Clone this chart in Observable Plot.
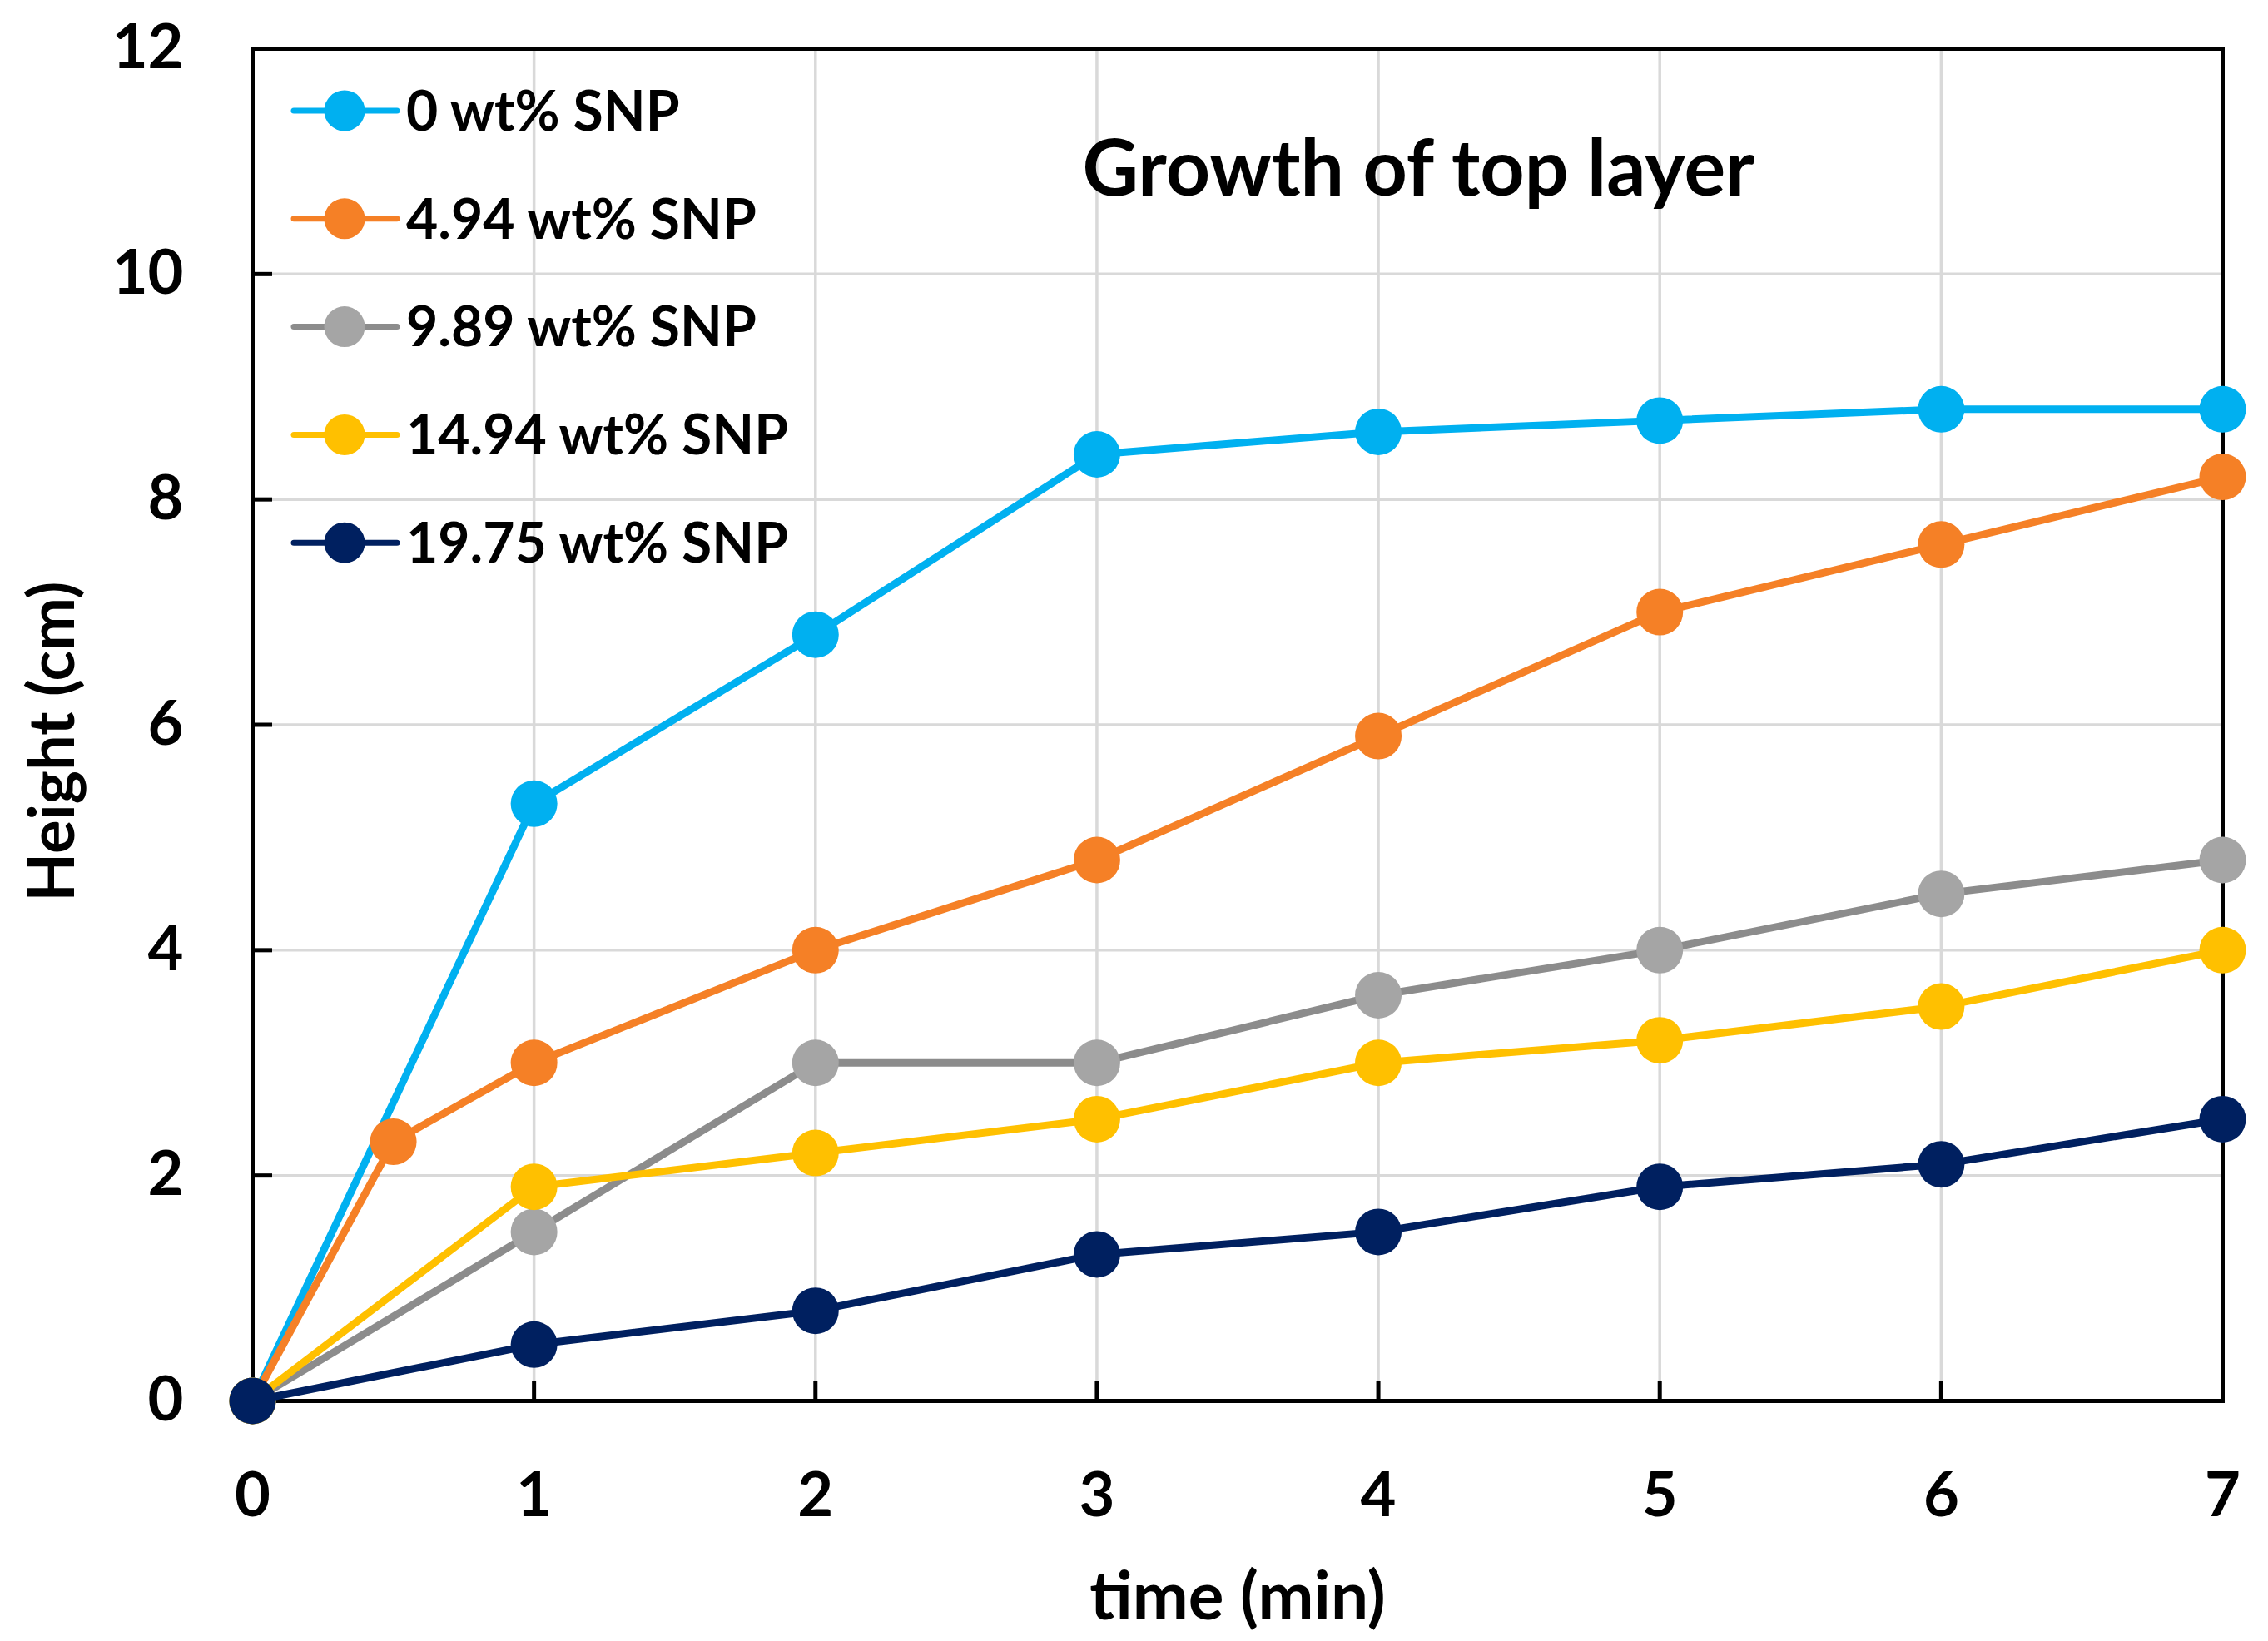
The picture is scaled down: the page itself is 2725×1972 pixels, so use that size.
<!DOCTYPE html>
<html><head><meta charset="utf-8">
<script src="https://cdn.jsdelivr.net/npm/d3@7"></script>
<script src="https://cdn.jsdelivr.net/npm/@observablehq/plot@0.6"></script>
<style>
html,body{margin:0;padding:0;background:#fff;}
#wrap{position:relative;width:2725px;height:1972px;}
#legend{position:absolute;left:0;top:0;}
</style></head><body><div id="wrap"></div>
<script>
const seriesNames = ["0 wt% SNP","4.94 wt% SNP","9.89 wt% SNP","14.94 wt% SNP","19.75 wt% SNP"];
const lineColors = ["#00B0F0","#F58026","#8C8C8C","#FFC000","#002060"];
const markerColors = ["#00B0F0","#F58026","#A5A5A5","#FFC000","#002060"];
const time0 = [0,1,2,3,4,5,6,7];
const height0 = [0,5.3,6.8,8.4,8.6,8.7,8.8,8.8];
const time494 = [0,0.5,1,2,3,4,5,6,7];
const height494 = [0,2.3,3.0,4.0,4.8,5.9,7.0,7.6,8.2];
const time989 = [0,1,2,3,4,5,6,7];
const height989 = [0,1.5,3.0,3.0,3.6,4.0,4.5,4.8];
const time1494 = [0,1,2,3,4,5,6,7];
const height1494 = [0,1.9,2.2,2.5,3.0,3.2,3.5,4.0];
const time1975 = [0,1,2,3,4,5,6,7];
const height1975 = [0,0.5,0.8,1.3,1.5,1.9,2.1,2.5];
const xTicks = [0,1,2,3,4,5,6,7];
const yTicks = [0,2,4,6,8,10,12];
const xLabel = "time (min)";
const yLabel = "Height (cm)";
const chartTitle = "Growth of top layer";

const times = [time0,time494,time989,time1494,time1975];
const heights = [height0,height494,height989,height1494,height1975];
const seriesRows = seriesNames.map((name,i)=>times[i].map((t,j)=>({series:name,t,h:heights[i][j]})));

const W=2725,H=1972, mL=303, mR=55, mT=58, mB=289;
const plotW=W-mL-mR, plotH=H-mT-mB;
const font = "Lato, 'Open Sans', sans-serif";

const seriesMarks = [];
seriesRows.forEach((rows,i)=>{
  seriesMarks.push(Plot.line(rows,{x:"t",y:"h",stroke:lineColors[i],strokeWidth:9,strokeLinejoin:"round"}));
  seriesMarks.push(Plot.dot(rows,{x:"t",y:"h",r:28,fill:markerColors[i],stroke:null}));
});

const chart = Plot.plot({
  width:W,height:H,marginLeft:mL,marginRight:mR,marginTop:mT,marginBottom:mB,
  style:{fontFamily:font,fontWeight:700,background:"#fff",color:"#000",overflow:"visible"},
  x:{domain:[0,7]}, y:{domain:[0,12]},
  marks:[
    Plot.gridX(xTicks,{stroke:"#d9d9d9",strokeOpacity:1,strokeWidth:3.5}),
    Plot.gridY(yTicks,{stroke:"#d9d9d9",strokeOpacity:1,strokeWidth:3.5}),
    Plot.frame({stroke:"#000",strokeWidth:5}),
    Plot.tickX(xTicks,{x:d=>d,insetTop:plotH-24,stroke:"#000",strokeWidth:5}),
    Plot.tickY(yTicks,{y:d=>d,insetRight:plotW-24,stroke:"#000",strokeWidth:5}),
    Plot.axisX(xTicks,{tickSize:0,tickPadding:86,fontSize:74,fontWeight:700,label:null,fill:"#000",tickFormat:d=>String(d)}),
    Plot.axisY(yTicks,{tickSize:0,tickPadding:83,fontSize:74,fontWeight:700,label:null,fill:"#000",tickFormat:d=>String(d)}),
    Plot.text([xLabel],{frameAnchor:"bottom",dy:237,fontSize:80,fontWeight:700,lineAnchor:"middle",textAnchor:"middle",fill:"#000"}),
    Plot.text([yLabel],{frameAnchor:"left",dx:-239,dy:20,rotate:-90,fontSize:76,fontWeight:700,lineAnchor:"middle",textAnchor:"middle",fill:"#000"}),
    Plot.text([chartTitle],{frameAnchor:"top-left",dx:997,dy:147,textAnchor:"start",lineAnchor:"middle",fontSize:93,fontWeight:700,fill:"#000"}),
    ...seriesMarks
  ]
});
const wrap = document.getElementById("wrap");
wrap.appendChild(chart);

// legend overlay
const leg = d3.select(wrap).append("svg").attr("id","legend").attr("width",W).attr("height",H);
const rowY = i => 133 + i*129.8;
const g = leg.selectAll("g").data(seriesNames).join("g").attr("transform",(d,i)=>`translate(0,${rowY(i)})`);
g.append("line").attr("x1",353).attr("x2",477).attr("y1",0).attr("y2",0)
  .attr("stroke",(d,i)=>lineColors[i]).attr("stroke-width",7).attr("stroke-linecap","round");
g.append("circle").attr("cx",414).attr("cy",0).attr("r",24.5).attr("fill",(d,i)=>markerColors[i]);
g.append("text").attr("x",488).attr("y",0).attr("dy","0.36em").text(d=>d)
  .attr("font-family",font).attr("font-weight",700).attr("font-size",66).attr("fill","#000");
</script></body></html>
